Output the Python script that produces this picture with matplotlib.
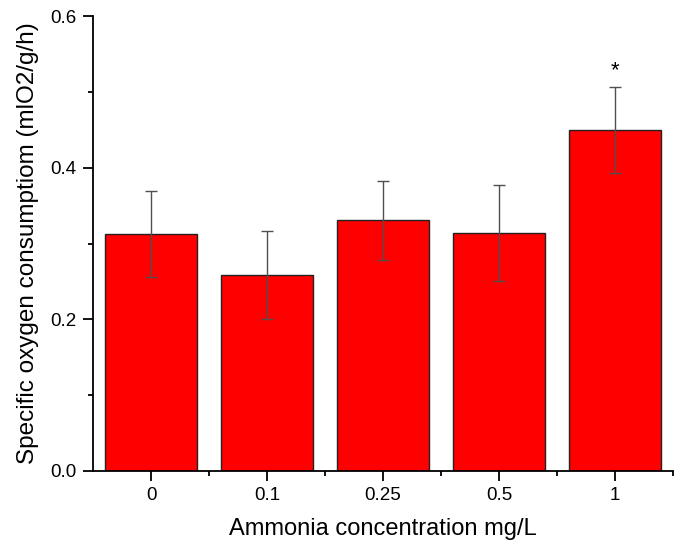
import numpy as np
import matplotlib.pyplot as plt
from matplotlib.ticker import MultipleLocator, FixedLocator

# Daten
categories = ['0', '0.1', '0.25', '0.5', '1']
means = [0.313, 0.258, 0.331, 0.314, 0.450]
errors = [0.057, 0.058, 0.052, 0.064, 0.057]
marks = ['', '', '', '', '*']

plt.rcParams['font.family'] = ['Liberation Sans', 'DejaVu Sans']

fig = plt.figure(figsize=(6.82, 5.44), dpi=100)
ax = fig.add_axes([0.1364, 0.1347, 0.8504, 0.835])

x = np.arange(len(categories))
ax.bar(x, means, width=0.8, color='#ff0000', edgecolor='#222222', linewidth=1.0, zorder=2)
ax.errorbar(x, means, yerr=errors, fmt='none', ecolor='#505050', elinewidth=1.0,
            capsize=4.5, capthick=1.0, zorder=3)

for xi, m, e, s in zip(x, means, errors, marks):
    if s:
        ax.text(xi, m + e + 0.008, s, ha='center', va='bottom', fontsize=16)

ax.set_xlim(-0.5, len(categories) - 0.5)
ax.set_ylim(0, 0.6)
ax.set_xticks(x)
ax.set_xticklabels(categories)
ax.xaxis.set_minor_locator(FixedLocator(np.arange(len(categories)) + 0.5))
ax.yaxis.set_major_locator(MultipleLocator(0.2))
ax.yaxis.set_minor_locator(MultipleLocator(0.1))
ax.yaxis.set_major_formatter(plt.FuncFormatter(lambda v, p: f'{v:.1f}'))

ax.tick_params(which='major', direction='out', length=7, width=1.3, labelsize=13.5, pad=5)
ax.tick_params(which='minor', direction='out', length=3.5, width=1.3)

for side in ['top', 'right']:
    ax.spines[side].set_visible(False)
for side in ['left', 'bottom']:
    ax.spines[side].set_linewidth(1.3)

ax.set_xlabel('Ammonia concentration mg/L', fontsize=17, labelpad=10)
ax.set_ylabel('Specific oxygen consumptiom (mlO2/g/h)', fontsize=17.5, labelpad=8)

fig.savefig('out.png', dpi=100)
